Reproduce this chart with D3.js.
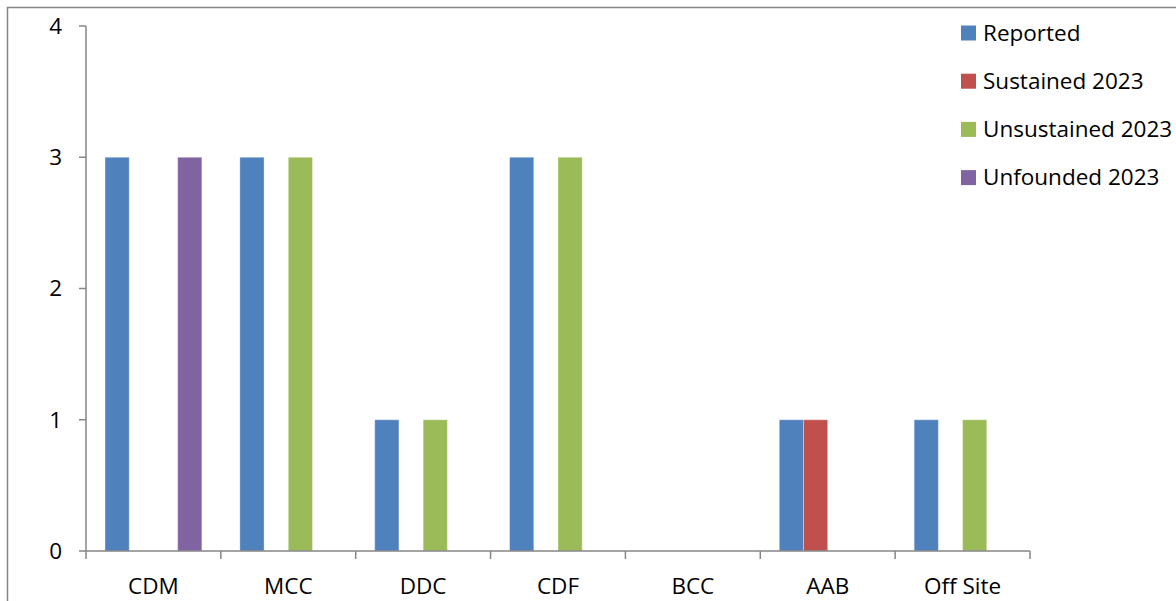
<!DOCTYPE html>
<html><head><meta charset="utf-8">
<script src="https://cdn.jsdelivr.net/npm/d3@7/dist/d3.min.js"></script>
<style>html,body{margin:0;padding:0;background:#fff;overflow:hidden}svg{display:block}</style>
</head><body>
<script>
const categories = ["CDM","MCC","DDC","CDF","BCC","AAB","Off Site"];
const seriesNames = ["Reported","Sustained 2023","Unsustained 2023","Unfounded 2023"];
const reported    = [3,3,1,3,0,1,1];
const sustained   = [0,0,0,0,0,1,0];
const unsustained = [0,3,1,3,0,0,1];
const unfounded   = [3,0,0,0,0,0,0];
const yTicks = [0,1,2,3,4];
const colors = ["#4F81BD","#C0504D","#9BBB59","#8064A2"];

const W = 1176, H = 601;
const svg = d3.select("body").append("svg").attr("width", W).attr("height", H);
const font = "'Open Sans', sans-serif";
const fs = 22.5;

svg.append("rect").attr("x",7.5).attr("y",7.5).attr("width",1300).attr("height",700)
  .attr("fill","none").attr("stroke","#868686").attr("stroke-width",1.5);

const x0 = d3.scaleBand().domain(categories).range([86, 1030]).paddingInner(0).paddingOuter(0);
const x1 = d3.scaleBand().domain(seriesNames).range([0, x0.bandwidth()]).paddingInner(0).paddingOuter(0.785);
const y = d3.scaleLinear().domain([0,4]).range([551, 26]);

const data = [reported, sustained, unsustained, unfounded];
const g = svg.append("g");
seriesNames.forEach((s, si) => {
  g.selectAll(null).data(categories).enter().append("rect")
    .attr("x", c => x0(c) + x1(s))
    .attr("width", x1.bandwidth())
    .attr("y", (c,i) => y(data[si][i]))
    .attr("height", (c,i) => y(0) - y(data[si][i]))
    .attr("fill", colors[si])
    .attr("stroke", "rgba(255,255,255,0.35)")
    .attr("stroke-width", 1);
});

// y axis
const ya = svg.append("g");
ya.append("line").attr("x1",86).attr("x2",86).attr("y1",y(4)).attr("y2",y(0)).attr("stroke","#868686").attr("stroke-width",1.5);
yTicks.forEach(t => {
  ya.append("line").attr("x1",79).attr("x2",86).attr("y1",y(t)).attr("y2",y(t)).attr("stroke","#868686").attr("stroke-width",1.5);
  ya.append("text").attr("x",62).attr("y",y(t)).attr("dy","0.35em").attr("text-anchor","end")
    .attr("font-family",font).attr("font-size",fs).attr("fill","#000").text(t);
});

// x axis
const xa = svg.append("g");
xa.append("line").attr("x1",86).attr("x2",1030).attr("y1",551).attr("y2",551).attr("stroke","#868686").attr("stroke-width",1.5);
const bounds = categories.map(c => x0(c)).concat([x0(categories[categories.length-1]) + x0.bandwidth()]);
bounds.forEach(b => {
  xa.append("line").attr("x1",b).attr("x2",b).attr("y1",551).attr("y2",559).attr("stroke","#868686").attr("stroke-width",1.5);
});
categories.forEach(c => {
  xa.append("text").attr("x", x0(c) + x0.bandwidth()/2).attr("y", 594).attr("text-anchor","middle")
    .attr("font-family",font).attr("font-size",fs).attr("fill","#000").text(c);
});

// legend
const lg = svg.append("g");
seriesNames.forEach((s, i) => {
  const cy = 33 + i*48.2;
  lg.append("rect").attr("x",961).attr("y",cy-7.5).attr("width",15).attr("height",15).attr("fill",colors[i]);
  lg.append("text").attr("x",983).attr("y",cy).attr("dy","0.35em")
    .attr("font-family",font).attr("font-size",fs).attr("fill","#000").text(s);
});
</script>
</body></html>
